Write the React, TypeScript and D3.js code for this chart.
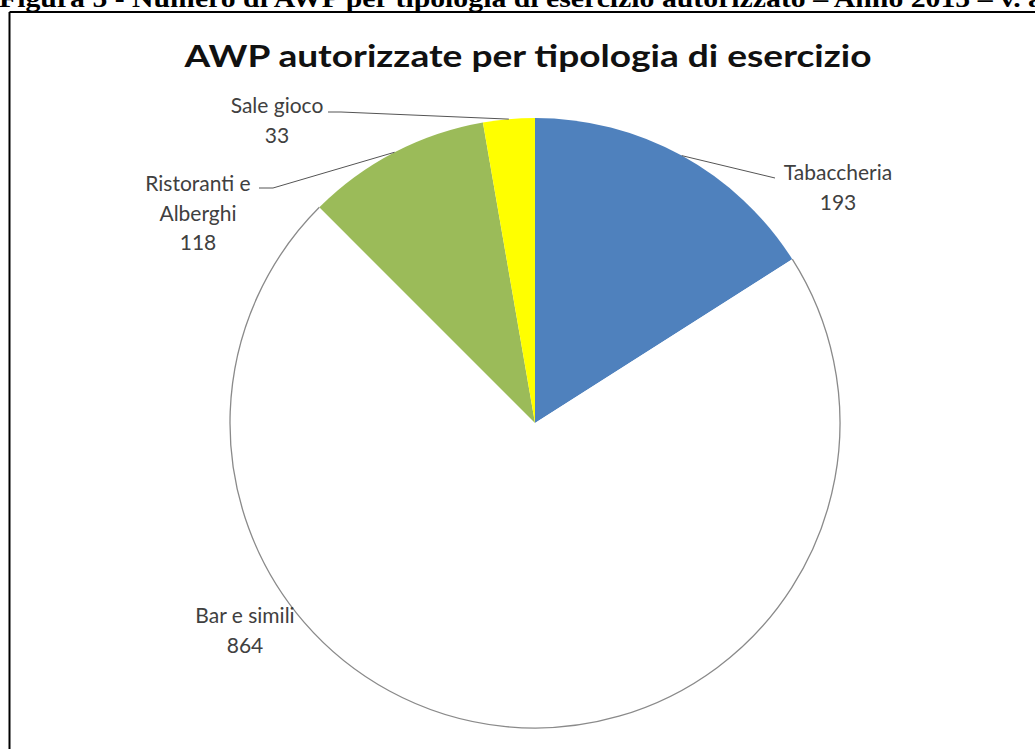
import React from "react";
import * as d3 from "d3";

const categories = ["Tabaccheria", "Bar e simili", "Ristoranti e Alberghi", "Sale gioco"];
const values = [193, 864, 118, 33];
const labelLines = [["Tabaccheria"], ["Bar e simili"], ["Ristoranti e", "Alberghi"], ["Sale gioco"]];
const colors = ["#4F81BD", "#FFFFFF", "#9BBB59", "#FFFF00"];
const chartTitle = "AWP autorizzate per tipologia di esercizio";
const figureCaption = "Figura 5 - Numero di AWP per tipologia di esercizio autorizzato – Anno 2015 – v. a";

// layout (not data)
const W = 1035, H = 749;
const cx = 535, cy = 423, R = 305;
const labelLayout = [
  { x: 838, y: 180, knee: [775, 178] as [number, number], kneeStart: null as [number, number] | null },
  { x: 245, y: 623, knee: null as [number, number] | null, kneeStart: null as [number, number] | null },
  { x: 198, y: 191, knee: [273, 188] as [number, number], kneeStart: [259, 188] as [number, number] },
  { x: 277, y: 113, knee: [341, 112] as [number, number], kneeStart: [328, 112] as [number, number] },
];

export default function App() {
  const pie = d3.pie<number>().sort(null).value((d) => d);
  const arcs = pie(values);
  const arcGen = d3.arc<d3.PieArcDatum<number>>().innerRadius(0).outerRadius(R);
  const outline = d3.arc<d3.PieArcDatum<number>>().innerRadius(R).outerRadius(R);
  const labelFont = "Lato, 'Open Sans', sans-serif";
  const lineH = 29.5;

  return (
    <svg
      width={W}
      height={H}
      style={{ position: "absolute", left: 0, top: 0, background: "#fff" }}
    >
      <rect x={0} y={0} width={W} height={H} fill="#fff" />
      <text
        x={-1}
        y={7}
        fontFamily="'Liberation Serif', 'Times New Roman', serif"
        fontWeight="bold"
        fontSize={25}
        fill="#000"
        textLength={1044}
        lengthAdjust="spacingAndGlyphs"
      >
        {figureCaption}
      </text>
      <line x1={9.5} y1={12} x2={W + 5} y2={12} stroke="#000" strokeWidth={2} />
      <line x1={9.5} y1={12} x2={9.5} y2={H + 5} stroke="#000" strokeWidth={2} />

      <text
        x={528}
        y={67}
        textAnchor="middle"
        fontFamily={labelFont}
        fontWeight="bold"
        fontSize={31}
        fill="#111"
        textLength={687}
        lengthAdjust="spacingAndGlyphs"
      >
        {chartTitle}
      </text>

      <g transform={`translate(${cx},${cy})`}>
        {arcs.map((a, i) => (
          <path key={categories[i]} d={arcGen(a) || ""} fill={colors[i]} stroke="none" />
        ))}
        <path d={outline(arcs[1]) || ""} fill="none" stroke="#8a8a8a" strokeWidth={1.3} />
      </g>

      {arcs.map((a, i) => {
        const L = labelLayout[i];
        if (!L.knee) return null;
        const mid = (a.startAngle + a.endAngle) / 2;
        const px = cx + R * Math.sin(mid);
        const py = cy - R * Math.cos(mid);
        const pts: [number, number][] = [[px, py], [L.knee[0], L.knee[1]]];
        if (L.kneeStart) pts.push([L.kneeStart[0], L.kneeStart[1]]);
        return (
          <path
            key={"l" + i}
            d={d3.line()(pts) || ""}
            fill="none"
            stroke="#555"
            strokeWidth={1}
          />
        );
      })}

      {categories.map((c, i) => {
        const L = labelLayout[i];
        const lines = [...labelLines[i], String(values[i])];
        return (
          <text
            key={"t" + c}
            x={L.x}
            y={L.y}
            textAnchor="middle"
            fontFamily={labelFont}
            fontSize={21}
            fill="#404040"
          >
            {lines.map((s, k) => (
              <tspan key={k} x={L.x} dy={k === 0 ? 0 : lineH}>
                {s}
              </tspan>
            ))}
          </text>
        );
      })}
    </svg>
  );
}
